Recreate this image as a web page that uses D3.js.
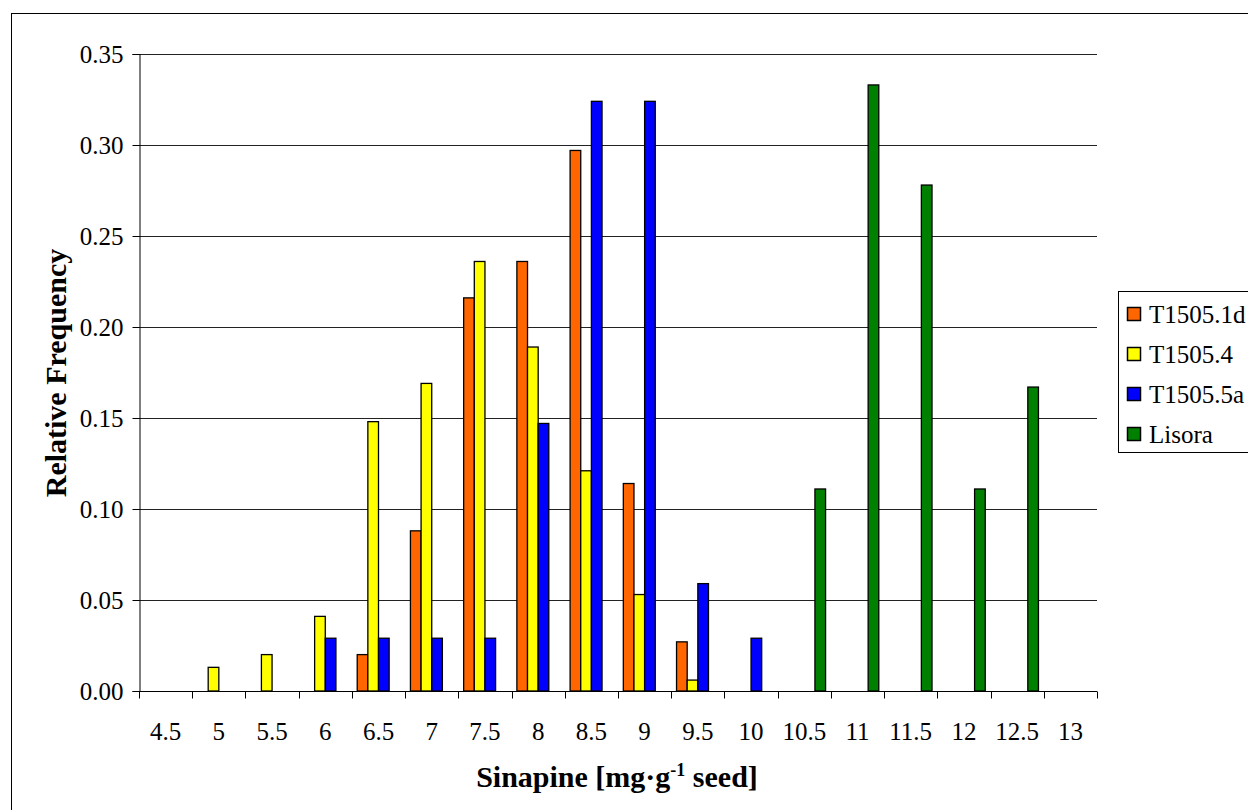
<!DOCTYPE html>
<html>
<head>
<meta charset="utf-8">
<script src="https://cdn.jsdelivr.net/npm/d3@7.9.0/dist/d3.min.js"></script>
<style>
  body { margin: 0; background: #fff; }
  svg { display: block; }
  svg text { font-family: "Liberation Serif", "Times New Roman", serif; fill: #000; }
</style>
</head>
<body>
<svg id="chart" width="1248" height="810"></svg>
<script>
// categories on the x axis (sinapine content bins)
const categories = ['4.5', '5', '5.5', '6', '6.5', '7', '7.5', '8', '8.5', '9', '9.5', '10', '10.5', '11', '11.5', '12', '12.5', '13'];
const seriesNames = ['T1505.1d', 'T1505.4', 'T1505.5a', 'Lisora'];
const seriesColors = ['#FF6600', '#FFFF00', '#0000FF', '#008000'];

// relative frequency per bin, 0 = no bar
const t1505_1d = [0, 0, 0, 0, 0.020, 0.088, 0.216, 0.236, 0.297, 0.114, 0.027, 0, 0, 0, 0, 0, 0, 0];
const t1505_4  = [0, 0.013, 0.020, 0.041, 0.148, 0.169, 0.236, 0.189, 0.121, 0.053, 0.006, 0, 0, 0, 0, 0, 0, 0];
const t1505_5a = [0, 0, 0, 0.029, 0.029, 0.029, 0.029, 0.147, 0.324, 0.324, 0.059, 0.029, 0, 0, 0, 0, 0, 0];
const lisora   = [0, 0, 0, 0, 0, 0, 0, 0, 0, 0, 0, 0, 0.111, 0.333, 0.278, 0.111, 0.167, 0];

const yTicks = [0, 0.05, 0.10, 0.15, 0.20, 0.25, 0.30, 0.35];

const allSeries = [t1505_1d, t1505_4, t1505_5a, lisora];
const FONT = '"Liberation Serif", "Times New Roman", serif';

const svg = d3.select('#chart');

// outer frame
svg.append('rect')
  .attr('x', 11.5).attr('y', 13.5)
  .attr('width', 1260).attr('height', 820)
  .attr('fill', 'none').attr('stroke', '#000').attr('stroke-width', 1);

const x0 = d3.scaleBand().domain(categories).range([139, 1097]).paddingInner(0).paddingOuter(0);
const x1 = d3.scaleBand().domain(seriesNames).range([0, x0.bandwidth()]).paddingInner(0).paddingOuter(0.5);
const y = d3.scaleLinear().domain([0, 0.35]).range([691, 54]);

// gridlines
svg.append('g')
  .selectAll('line')
  .data(yTicks.filter(d => d > 0))
  .join('line')
  .attr('x1', 139).attr('x2', 1097)
  .attr('y1', d => Math.round(y(d)) + 0.5).attr('y2', d => Math.round(y(d)) + 0.5)
  .attr('stroke', '#222').attr('stroke-width', 1);

// bars
const groups = svg.append('g');
allSeries.forEach((vals, si) => {
  groups.selectAll(null)
    .data(vals.map((v, i) => ({ v, cat: categories[i] })).filter(d => d.v > 0))
    .join('rect')
    .attr('x', d => x0(d.cat) + x1(seriesNames[si]))
    .attr('y', d => y(d.v))
    .attr('width', x1.bandwidth())
    .attr('height', d => y(0) - y(d.v))
    .attr('fill', seriesColors[si])
    .attr('stroke', '#000')
    .attr('stroke-width', 1.3);
});

// y axis
const yAxis = svg.append('g')
  .attr('transform', 'translate(139.5,0)')
  .call(d3.axisLeft(y).tickValues(yTicks).tickFormat(d3.format('.2f')).tickSize(7).tickPadding(9));
yAxis.select('.domain').attr('stroke', '#000');
yAxis.selectAll('.tick line').attr('stroke', '#000');
yAxis.selectAll('text').attr('font-size', 25).attr('font-family', FONT).attr('fill', '#000');

// x axis: ticks at category boundaries
const xAxis = svg.append('g').attr('transform', 'translate(0,691.5)');
xAxis.append('line').attr('x1', 139).attr('x2', 1097).attr('stroke', '#000');
xAxis.selectAll('.bt')
  .data(categories.concat(['end']))
  .join('line')
  .attr('class', 'bt')
  .attr('x1', (d, i) => Math.round(i < categories.length ? x0(d) : x0.range()[1]) + 0.5)
  .attr('x2', (d, i) => Math.round(i < categories.length ? x0(d) : x0.range()[1]) + 0.5)
  .attr('y1', 0).attr('y2', 7)
  .attr('stroke', '#000');
xAxis.selectAll('text')
  .data(categories)
  .join('text')
  .attr('x', d => x0(d) + x0.bandwidth() / 2)
  .attr('y', 48)
  .attr('text-anchor', 'middle')
  .attr('font-family', FONT)
  .attr('font-size', 25)
  .text(d => d);

// axis titles
const xt = svg.append('text')
  .attr('x', 617).attr('y', 787)
  .attr('text-anchor', 'middle')
  .attr('font-family', FONT)
  .attr('font-size', 30).attr('font-weight', 'bold');
xt.append('tspan').text('Sinapine [mg·g');
xt.append('tspan').attr('font-size', 18).attr('dy', -11).text('-1');
xt.append('tspan').attr('dy', 11).text(' seed]');

svg.append('text')
  .attr('transform', 'translate(66,373) rotate(-90)')
  .attr('text-anchor', 'middle')
  .attr('font-family', FONT)
  .attr('font-size', 30).attr('font-weight', 'bold')
  .text('Relative Frequency');

// legend
const legend = svg.append('g');
legend.append('rect')
  .attr('x', 1118.5).attr('y', 291.5)
  .attr('width', 140).attr('height', 161)
  .attr('fill', '#fff').attr('stroke', '#000');
seriesNames.forEach((name, i) => {
  const cy = 314 + i * 40;
  legend.append('rect')
    .attr('x', 1127.5).attr('y', cy - 6.5)
    .attr('width', 13).attr('height', 13)
    .attr('fill', seriesColors[i]).attr('stroke', '#000').attr('stroke-width', 1.5);
  legend.append('text')
    .attr('x', 1149).attr('y', cy + 9)
    .attr('font-family', FONT)
    .attr('font-size', 25)
    .text(name);
});
</script>
</body>
</html>
